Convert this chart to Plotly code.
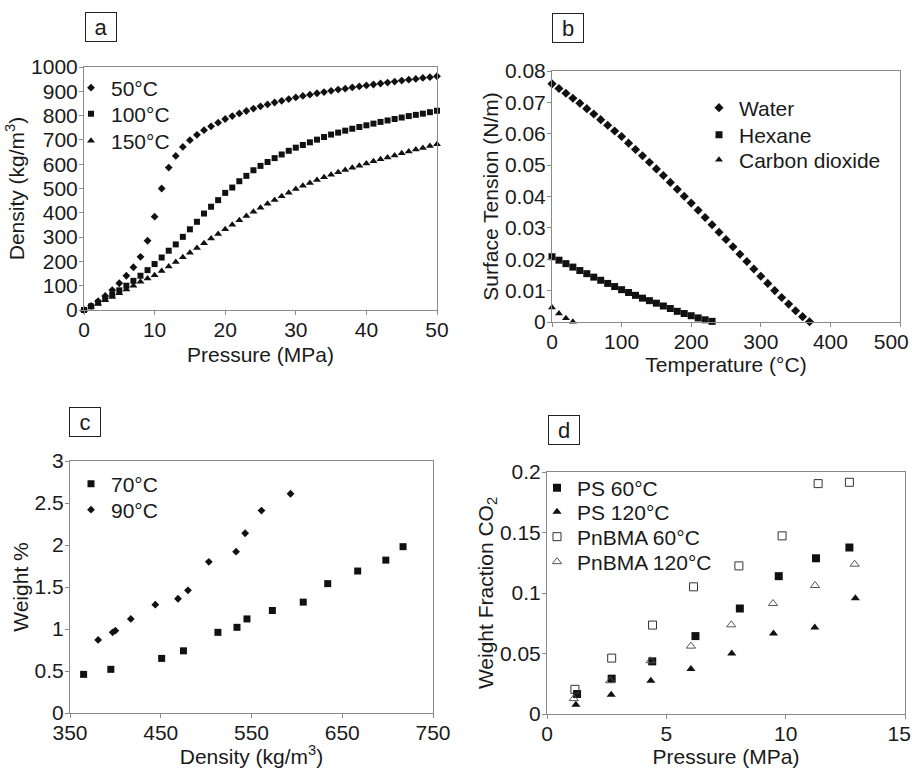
import plotly.graph_objects as go

W, H = 912, 768

# ---------------- Panel a : CO2 density vs pressure ----------------
a_pressure = list(range(0, 51))
a_50C = [0, 17, 36, 58, 82, 110, 141, 176, 219, 285, 384, 500, 586, 634, 671, 699,
         721, 740, 756, 771, 786, 798, 809, 819, 829, 838, 846, 854, 861, 868, 875,
         881, 886, 892, 897, 902, 907, 911, 916, 920, 924, 928, 932, 936, 940, 944,
         948, 951, 955, 958, 962]
a_100C = [0, 15, 30, 46, 63, 81, 100, 120, 141, 164, 189, 216, 244, 270, 301, 332,
          363, 397, 425, 452, 482, 504, 530, 552, 575, 593, 609, 625, 640, 655, 668,
          679, 690, 701, 712, 722, 730, 738, 746, 753, 760, 767, 774, 780, 786, 792,
          798, 803, 808, 814, 820]
a_150C = [0, 13, 26, 40, 54, 69, 84, 100, 116, 130, 143, 161, 179, 198, 217, 236,
          255, 275, 294, 313, 332, 351, 369, 387, 404, 421, 437, 453, 468, 483, 498,
          511, 523, 535, 546, 557, 567, 576, 585, 594, 603, 612, 620, 628, 636, 645,
          652, 660, 667, 675, 682]
a_xticks = [0, 10, 20, 30, 40, 50]

# ---------------- Panel b : surface tension vs temperature ----------------
b_water_T = list(range(0, 371, 10))
b_water = [0.0759, 0.0744, 0.0729, 0.0713, 0.0697, 0.0680, 0.0663, 0.0645, 0.0627,
           0.0609, 0.0591, 0.0570, 0.0550, 0.0530, 0.0509, 0.0488, 0.0467, 0.0445,
           0.0423, 0.0401, 0.0379, 0.0356, 0.0333, 0.0310, 0.0286, 0.0263, 0.0240,
           0.0216, 0.0193, 0.0169, 0.0146, 0.0123, 0.0100, 0.0078, 0.0057, 0.0036,
           0.0017, 0.0001]
b_hexane_T = list(range(0, 231, 10))
b_hexane = [0.0208, 0.0197, 0.0186, 0.0175, 0.0164, 0.0154, 0.0143, 0.0133, 0.0123,
            0.0113, 0.0103, 0.0094, 0.0085, 0.0076, 0.0068, 0.0060, 0.0051, 0.0043,
            0.0034, 0.0027, 0.0020, 0.0013, 0.0007, 0.0002]
b_co2_T = [0, 10, 20, 30]
b_co2 = [0.0046, 0.0027, 0.0012, 0.0001]
b_xticks = [0, 100, 200, 300, 400, 500]

# ---------------- Panel c : weight % vs density ----------------
c_70C_density = [365, 395, 451, 475, 513, 534, 545, 573, 607, 634, 667, 698, 717]
c_70C_weight = [0.46, 0.52, 0.65, 0.74, 0.96, 1.02, 1.12, 1.22, 1.32, 1.54, 1.69, 1.82, 1.98]
c_90C_density = [381, 397, 400, 417, 444, 469, 480, 503, 533, 543, 561, 593]
c_90C_weight = [0.87, 0.96, 0.98, 1.12, 1.29, 1.36, 1.46, 1.80, 1.92, 2.14, 2.41, 2.61]
c_xticks = [350, 450, 550, 650, 750]

# ---------------- Panel d : weight fraction CO2 vs pressure ----------------
d_ps60_P = [1.26, 2.71, 4.41, 6.22, 8.08, 9.71, 11.27, 12.67]
d_ps60 = [0.0165, 0.0292, 0.0435, 0.0644, 0.0872, 0.1139, 0.1287, 0.1376]
d_ps120_P = [1.21, 2.69, 4.35, 6.03, 7.74, 9.49, 11.22, 12.92]
d_ps120 = [0.0077, 0.0160, 0.0275, 0.0371, 0.0501, 0.0666, 0.0715, 0.0957]
d_pn60_P = [1.17, 2.71, 4.42, 6.14, 8.04, 9.85, 11.36, 12.67]
d_pn60 = [0.0204, 0.0462, 0.0735, 0.1051, 0.1224, 0.1472, 0.1904, 0.1915]
d_pn120_P = [1.12, 2.65, 4.34, 6.03, 7.72, 9.47, 11.23, 12.89]
d_pn120 = [0.0127, 0.0275, 0.0440, 0.0561, 0.0737, 0.0913, 0.1062, 0.1238]
d_xticks = [0, 5, 10, 15]

FONT = "Liberation Sans, Arial, sans-serif"
TXT = "#1a1a1a"
AXC = "#8a8a8a"
BLACK = "#111111"
FS = 21


def px_x(p):
    return p / W


def px_y(p):
    return 1 - p / H


fig = go.Figure()
legends = {}
_count = [0]


def add(x, y, name, symbol, size, xa, ya, leg_px, color=BLACK, lw=0, fs=FS):
    """leg_px: (symbol-centre x, entry-centre y) in pixels; each entry is its own legend."""
    _count[0] += 1
    key = "legend" if _count[0] == 1 else f"legend{_count[0]}"
    legends[key] = dict(x=px_x(leg_px[0] - 20), y=px_y(leg_px[1]), xanchor="left",
                        yanchor="middle", bgcolor="rgba(0,0,0,0)", borderwidth=0,
                        font=dict(size=fs, color=TXT, family=FONT),
                        itemsizing="trace", visible=True)
    fig.add_trace(go.Scatter(
        x=x, y=y, mode="markers", name=name, xaxis=xa, yaxis=ya, legend=key,
        cliponaxis=False, showlegend=True,
        marker=dict(symbol=symbol, size=size, color=color,
                    line=dict(width=lw, color=color)),
    ))


add(a_pressure, a_50C, "50°C", "diamond", 6, "x", "y", (91, 88))
add(a_pressure, a_100C, "100°C", "square", 6, "x", "y", (91, 114))
add(a_pressure, a_150C, "150°C", "triangle-up", 7, "x", "y", (91, 141))

add(b_water_T, b_water, "Water", "diamond", 7, "x2", "y2", (719, 108))
add(b_hexane_T, b_hexane, "Hexane", "square", 7, "x2", "y2", (719, 135))
add(b_co2_T, b_co2, "Carbon dioxide", "triangle-up", 7, "x2", "y2", (719, 160))

add(c_70C_density, c_70C_weight, "70°C", "square", 7, "x3", "y3", (91, 484))
add(c_90C_density, c_90C_weight, "90°C", "diamond", 6, "x3", "y3", (91, 510))

add(d_ps60_P, d_ps60, "PS 60°C", "square", 8, "x4", "y4", (557, 488))
add(d_ps120_P, d_ps120, "PS 120°C", "triangle-up", 8, "x4", "y4", (557, 512))
add(d_pn60_P, d_pn60, "PnBMA 60°C", "square-open", 8, "x4", "y4", (557, 537),
    color="#333333", lw=1)
add(d_pn120_P, d_pn120, "PnBMA 120°C", "triangle-up-open", 8, "x4", "y4", (557, 562),
    color="#555555", lw=1)


def axis(domain_px, rng, dtick, title, horizontal=True, anchor=None,
         ticks_list=None, last_pad=0, standoff=None):
    if horizontal:
        dom = [px_x(domain_px[0]), px_x(domain_px[1])]
    else:
        dom = [px_y(domain_px[1]), px_y(domain_px[0])]
    t = dict(text=title, font=dict(size=FS, color=TXT, family=FONT))
    if standoff is not None:
        t["standoff"] = standoff
    d = dict(domain=dom, range=rng, showline=True, linecolor=AXC,
             linewidth=1, mirror=True, ticks="outside", ticklen=4, tickcolor=AXC,
             showgrid=False, zeroline=False, anchor=anchor, automargin=False,
             ticklabelstandoff=-3,
             tickfont=dict(size=FS, color=TXT, family=FONT), title=t)
    if ticks_list is not None:
        labels = [str(v) for v in ticks_list]
        # the last label is nudged inward (as in the original) with trailing spaces
        labels[-1] = labels[-1] + "\u00a0" * last_pad
        d.update(tickmode="array", tickvals=ticks_list, ticktext=labels,
                 ticklabeloverflow="allow")
    else:
        d.update(dtick=dtick)
    return d


layout = dict(
    width=W, height=H, margin=dict(l=0, r=0, t=0, b=0, autoexpand=False),
    paper_bgcolor="white", plot_bgcolor="white", showlegend=True,
    font=dict(family=FONT, color=TXT, size=FS),
    xaxis=axis([84, 437], [0, 50], 10, "Pressure (MPa)", anchor="y",
               ticks_list=a_xticks, standoff=7),
    yaxis=axis([67, 310], [0, 1000], 100, "Density (kg/m<sup>3</sup>)",
               horizontal=False, anchor="x", standoff=0),
    xaxis2=axis([552, 900], [0, 500], 100, "Temperature (°C)", anchor="y2",
                ticks_list=b_xticks, last_pad=3, standoff=2),
    yaxis2=axis([71, 322], [0, 0.08], 0.01, "Surface Tension (N/m)",
                horizontal=False, anchor="x2", standoff=0),
    xaxis3=axis([70, 433], [350, 750], 100, "Density (kg/m<sup>3</sup>)", anchor="y3",
                ticks_list=c_xticks, standoff=2),
    yaxis3=axis([461, 713], [0, 3], 0.5, "Weight %", horizontal=False, anchor="x3",
                standoff=0),
    xaxis4=axis([547, 905], [0, 15], 5, "Pressure (MPa)", anchor="y4",
                ticks_list=d_xticks, last_pad=2, standoff=2),
    yaxis4=axis([472, 714], [0, 0.2], 0.05, "Weight Fraction CO<sub>2</sub>",
                horizontal=False, anchor="x4", standoff=0),
)
layout.update(legends)

annots = []
for lab, cx, cy in [("a", 101, 27), ("b", 568, 28), ("c", 85, 422), ("d", 564, 430)]:
    annots.append(dict(text=lab, x=px_x(cx), y=px_y(cy), xref="paper", yref="paper",
                       xanchor="center", yanchor="middle", showarrow=False,
                       font=dict(size=22, color=TXT, family=FONT),
                       width=28, height=26, bordercolor="#222", borderwidth=1,
                       borderpad=1, bgcolor="white"))
layout["annotations"] = annots

fig.update_layout(**layout)
fig.write_html("out.html", config={"displayModeBar": False},
               post_script="document.body.style.margin='0';")
